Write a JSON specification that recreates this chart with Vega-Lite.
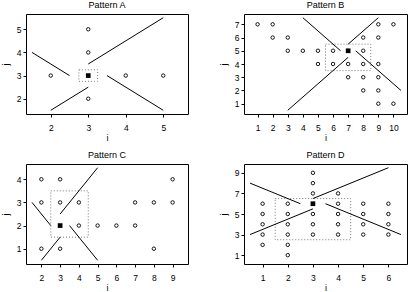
{
  "$schema": "https://vega.github.io/schema/vega-lite/v6.json",
  "padding": {"left": 0, "top": 0, "right": 0, "bottom": 0},
  "columns": 2,
  "bounds": "flush",
  "spacing": {"row": 50, "column": 56},
  "config": {
    "font": "Liberation Sans",
    "view": {"stroke": "black", "strokeWidth": 1},
    "axis": {"domain": false, "grid": false, "tickColor": "black", "tickSize": 3, "labelFont": "Liberation Sans", "labelFontSize": 8.5, "labelColor": "black", "titleFont": "Liberation Sans", "titleFontSize": 9, "titleFontWeight": "normal", "titleColor": "black", "labelOverlap": false, "labelFlush": false},
    "axisX": {"labelPadding": 6.5, "titlePadding": 1},
    "axisY": {"labelPadding": 2, "titlePadding": 6, "labelAngle": 0},
    "title": {"font": "Liberation Sans", "fontSize": 9, "fontWeight": "normal", "color": "black", "offset": 4}
  },
  "datasets": {
    "pts": [
      {"p": "A", "i": 3, "j": 5}, {"p": "A", "i": 3, "j": 4}, {"p": "A", "i": 2, "j": 3}, {"p": "A", "i": 4, "j": 3}, {"p": "A", "i": 5, "j": 3}, {"p": "A", "i": 3, "j": 2},
      {"p": "B", "i": 1, "j": 7}, {"p": "B", "i": 2, "j": 7}, {"p": "B", "i": 9, "j": 7}, {"p": "B", "i": 10, "j": 7},
      {"p": "B", "i": 2, "j": 6}, {"p": "B", "i": 3, "j": 6}, {"p": "B", "i": 8, "j": 6}, {"p": "B", "i": 9, "j": 6},
      {"p": "B", "i": 3, "j": 5}, {"p": "B", "i": 4, "j": 5}, {"p": "B", "i": 5, "j": 5}, {"p": "B", "i": 6, "j": 5}, {"p": "B", "i": 8, "j": 5},
      {"p": "B", "i": 5, "j": 4}, {"p": "B", "i": 6, "j": 4}, {"p": "B", "i": 7, "j": 4}, {"p": "B", "i": 8, "j": 4}, {"p": "B", "i": 9, "j": 4},
      {"p": "B", "i": 7, "j": 3}, {"p": "B", "i": 8, "j": 3}, {"p": "B", "i": 9, "j": 3},
      {"p": "B", "i": 8, "j": 2}, {"p": "B", "i": 9, "j": 2},
      {"p": "B", "i": 9, "j": 1}, {"p": "B", "i": 10, "j": 1},
      {"p": "C", "i": 2, "j": 4}, {"p": "C", "i": 3, "j": 4}, {"p": "C", "i": 9, "j": 4},
      {"p": "C", "i": 2, "j": 3}, {"p": "C", "i": 3, "j": 3}, {"p": "C", "i": 4, "j": 3}, {"p": "C", "i": 7, "j": 3}, {"p": "C", "i": 8, "j": 3}, {"p": "C", "i": 9, "j": 3},
      {"p": "C", "i": 4, "j": 2}, {"p": "C", "i": 5, "j": 2}, {"p": "C", "i": 6, "j": 2}, {"p": "C", "i": 7, "j": 2},
      {"p": "C", "i": 2, "j": 1}, {"p": "C", "i": 3, "j": 1}, {"p": "C", "i": 8, "j": 1},
      {"p": "D", "i": 1, "j": 2}, {"p": "D", "i": 1, "j": 3}, {"p": "D", "i": 1, "j": 4}, {"p": "D", "i": 1, "j": 5}, {"p": "D", "i": 1, "j": 6},
      {"p": "D", "i": 2, "j": 1}, {"p": "D", "i": 2, "j": 2}, {"p": "D", "i": 2, "j": 3}, {"p": "D", "i": 2, "j": 4}, {"p": "D", "i": 2, "j": 5}, {"p": "D", "i": 2, "j": 6},
      {"p": "D", "i": 3, "j": 3}, {"p": "D", "i": 3, "j": 4}, {"p": "D", "i": 3, "j": 5}, {"p": "D", "i": 3, "j": 7}, {"p": "D", "i": 3, "j": 8}, {"p": "D", "i": 3, "j": 9},
      {"p": "D", "i": 4, "j": 3}, {"p": "D", "i": 4, "j": 4}, {"p": "D", "i": 4, "j": 5}, {"p": "D", "i": 4, "j": 6}, {"p": "D", "i": 4, "j": 7},
      {"p": "D", "i": 5, "j": 3}, {"p": "D", "i": 5, "j": 4}, {"p": "D", "i": 5, "j": 5}, {"p": "D", "i": 5, "j": 6},
      {"p": "D", "i": 6, "j": 3}, {"p": "D", "i": 6, "j": 4}, {"p": "D", "i": 6, "j": 5}, {"p": "D", "i": 6, "j": 6}
    ],
    "ctr": [
      {"p": "A", "i": 3, "j": 3}, {"p": "B", "i": 7, "j": 5}, {"p": "C", "i": 3, "j": 2}, {"p": "D", "i": 3, "j": 6}
    ],
    "segs": [
      {"p": "A", "i": 1.5, "j": 4, "i2": 2.5, "j2": 3}, {"p": "A", "i": 3, "j": 3.5, "i2": 5, "j2": 5.5}, {"p": "A", "i": 3.5, "j": 3, "i2": 5, "j2": 1.5}, {"p": "A", "i": 2, "j": 1.5, "i2": 3, "j2": 2.5},
      {"p": "B", "i": 4, "j": 7.5, "i2": 6.5, "j2": 5}, {"p": "B", "i": 7, "j": 5.5, "i2": 9, "j2": 7.5}, {"p": "B", "i": 7.5, "j": 5, "i2": 10.5, "j2": 2}, {"p": "B", "i": 3, "j": 0.5, "i2": 7, "j2": 4.5},
      {"p": "C", "i": 1.5, "j": 3, "i2": 2.5, "j2": 2}, {"p": "C", "i": 3, "j": 2.5, "i2": 5, "j2": 4.5}, {"p": "C", "i": 3.5, "j": 2, "i2": 5, "j2": 0.5}, {"p": "C", "i": 2, "j": 0.5, "i2": 3, "j2": 1.5},
      {"p": "D", "i": 0.5, "j": 8, "i2": 2.5, "j2": 6}, {"p": "D", "i": 3, "j": 6.5, "i2": 6, "j2": 9.5}, {"p": "D", "i": 3.5, "j": 6, "i2": 6.5, "j2": 3}, {"p": "D", "i": 0.5, "j": 3, "i2": 3, "j2": 5.5}
    ],
    "boxes": [
      {"p": "A", "i": 2.75, "j": 2.75, "i2": 3.25, "j2": 3.25},
      {"p": "B", "i": 5.5, "j": 3.5, "i2": 8.5, "j2": 5.5},
      {"p": "C", "i": 2.5, "j": 1.5, "i2": 4.5, "j2": 3.5},
      {"p": "D", "i": 1.5, "j": 2.5, "i2": 4.5, "j2": 6.5}
    ]
  },
  "concat": [
    {
      "title": "Pattern A", "width": 162, "height": 100,
      "encoding": {
        "x": {"field": "i", "type": "quantitative", "title": "i", "scale": {"domain": [1.34, 5.66], "nice": false, "zero": false}, "axis": {"values": [2, 3, 4, 5], "tickCount": 4}},
        "y": {"field": "j", "type": "quantitative", "title": "j", "scale": {"domain": [1.34, 5.66], "nice": false, "zero": false}, "axis": {"values": [2, 3, 4, 5], "tickCount": 4}}
      },
      "layer": [
        {"data": {"name": "boxes"}, "transform": [{"filter": "datum.p == 'A'"}],
         "mark": {"type": "rect", "filled": false, "stroke": "#777777", "strokeWidth": 1, "strokeDash": [1, 2]},
         "encoding": {"x2": {"field": "i2"}, "y2": {"field": "j2"}}},
        {"data": {"name": "segs"}, "transform": [{"filter": "datum.p == 'A'"}],
         "mark": {"type": "rule", "color": "black", "strokeWidth": 1},
         "encoding": {"x2": {"field": "i2"}, "y2": {"field": "j2"}}},
        {"data": {"name": "pts"}, "transform": [{"filter": "datum.p == 'A'"}],
         "mark": {"type": "point", "shape": "circle", "filled": false, "stroke": "black", "strokeWidth": 0.9, "size": 12, "opacity": 1}},
        {"data": {"name": "ctr"}, "transform": [{"filter": "datum.p == 'A'"}],
         "mark": {"type": "square", "color": "black", "size": 22, "opacity": 1}}
      ]
    },
    {
      "title": "Pattern B", "width": 163, "height": 100,
      "encoding": {
        "x": {"field": "i", "type": "quantitative", "title": "i", "scale": {"domain": [0.1, 10.9], "nice": false, "zero": false}, "axis": {"values": [1, 2, 3, 4, 5, 6, 7, 8, 9, 10], "tickCount": 10}},
        "y": {"field": "j", "type": "quantitative", "title": "j", "scale": {"domain": [0.22, 7.78], "nice": false, "zero": false}, "axis": {"values": [1, 2, 3, 4, 5, 6, 7], "tickCount": 7}}
      },
      "layer": [
        {"data": {"name": "boxes"}, "transform": [{"filter": "datum.p == 'B'"}],
         "mark": {"type": "rect", "filled": false, "stroke": "#777777", "strokeWidth": 1, "strokeDash": [1, 2]},
         "encoding": {"x2": {"field": "i2"}, "y2": {"field": "j2"}}},
        {"data": {"name": "segs"}, "transform": [{"filter": "datum.p == 'B'"}],
         "mark": {"type": "rule", "color": "black", "strokeWidth": 1},
         "encoding": {"x2": {"field": "i2"}, "y2": {"field": "j2"}}},
        {"data": {"name": "pts"}, "transform": [{"filter": "datum.p == 'B'"}],
         "mark": {"type": "point", "shape": "circle", "filled": false, "stroke": "black", "strokeWidth": 0.9, "size": 12, "opacity": 1}},
        {"data": {"name": "ctr"}, "transform": [{"filter": "datum.p == 'B'"}],
         "mark": {"type": "square", "color": "black", "size": 22, "opacity": 1}}
      ]
    },
    {
      "title": "Pattern C", "width": 162, "height": 100,
      "encoding": {
        "x": {"field": "i", "type": "quantitative", "title": "i", "scale": {"domain": [1.18, 9.82], "nice": false, "zero": false}, "axis": {"values": [2, 3, 4, 5, 6, 7, 8, 9], "tickCount": 8}},
        "y": {"field": "j", "type": "quantitative", "title": "j", "scale": {"domain": [0.34, 4.66], "nice": false, "zero": false}, "axis": {"values": [1, 2, 3, 4], "tickCount": 4}}
      },
      "layer": [
        {"data": {"name": "boxes"}, "transform": [{"filter": "datum.p == 'C'"}],
         "mark": {"type": "rect", "filled": false, "stroke": "#777777", "strokeWidth": 1, "strokeDash": [1, 2]},
         "encoding": {"x2": {"field": "i2"}, "y2": {"field": "j2"}}},
        {"data": {"name": "segs"}, "transform": [{"filter": "datum.p == 'C'"}],
         "mark": {"type": "rule", "color": "black", "strokeWidth": 1},
         "encoding": {"x2": {"field": "i2"}, "y2": {"field": "j2"}}},
        {"data": {"name": "pts"}, "transform": [{"filter": "datum.p == 'C'"}],
         "mark": {"type": "point", "shape": "circle", "filled": false, "stroke": "black", "strokeWidth": 0.9, "size": 12, "opacity": 1}},
        {"data": {"name": "ctr"}, "transform": [{"filter": "datum.p == 'C'"}],
         "mark": {"type": "square", "color": "black", "size": 22, "opacity": 1}}
      ]
    },
    {
      "title": "Pattern D", "width": 163, "height": 100,
      "encoding": {
        "x": {"field": "i", "type": "quantitative", "title": "i", "scale": {"domain": [0.26, 6.74], "nice": false, "zero": false}, "axis": {"values": [1, 2, 3, 4, 5, 6], "tickCount": 6}},
        "y": {"field": "j", "type": "quantitative", "title": "j", "scale": {"domain": [0.14, 9.86], "nice": false, "zero": false}, "axis": {"values": [1, 3, 5, 7, 9], "tickCount": 5}}
      },
      "layer": [
        {"data": {"name": "boxes"}, "transform": [{"filter": "datum.p == 'D'"}],
         "mark": {"type": "rect", "filled": false, "stroke": "#777777", "strokeWidth": 1, "strokeDash": [1, 2]},
         "encoding": {"x2": {"field": "i2"}, "y2": {"field": "j2"}}},
        {"data": {"name": "segs"}, "transform": [{"filter": "datum.p == 'D'"}],
         "mark": {"type": "rule", "color": "black", "strokeWidth": 1},
         "encoding": {"x2": {"field": "i2"}, "y2": {"field": "j2"}}},
        {"data": {"name": "pts"}, "transform": [{"filter": "datum.p == 'D'"}],
         "mark": {"type": "point", "shape": "circle", "filled": false, "stroke": "black", "strokeWidth": 0.9, "size": 12, "opacity": 1}},
        {"data": {"name": "ctr"}, "transform": [{"filter": "datum.p == 'D'"}],
         "mark": {"type": "square", "color": "black", "size": 22, "opacity": 1}}
      ]
    }
  ]
}
